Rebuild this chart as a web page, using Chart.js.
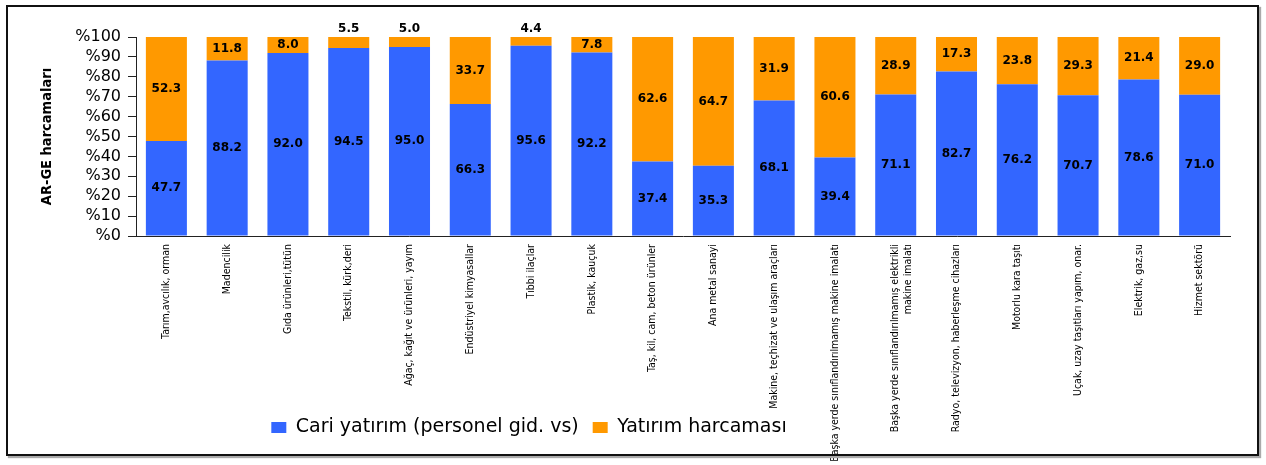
<!DOCTYPE html>
<html>
<head>
<meta charset="utf-8">
<script src="https://cdn.jsdelivr.net/npm/chart.js@4/dist/chart.umd.min.js"></script>
<style>
  body { margin: 0; background: #fff; }
  #kutu { position: relative; width: 1266px; height: 465px; }
  #grafik { position: absolute; left: 0; top: 0; }
  #cerceve {
    position: absolute; left: 6px; top: 5px; width: 1249px; height: 447px;
    border: 2px solid #111; box-shadow: 2px 2px 1px #aaa; pointer-events: none;
  }
</style>
</head>
<body>
<div id="kutu">
  <canvas id="grafik" width="1266" height="465"></canvas>
  <div id="cerceve"></div>
</div>
<script>
var sektorler = [
    "Tarım,avcılık, orman",
    "Madencilik",
    "Gıda ürünleri,tütün",
    "Tekstil, kürk,deri",
    "Ağaç, kağıt ve ürünleri, yayım",
    "Endüstriyel kimyasallar",
    "Tıbbi ilaçlar",
    "Plastik, kauçuk",
    "Taş, kil, cam, beton ürünler",
    "Ana metal sanayi",
    "Makine, teçhizat ve ulaşım araçları",
    "Başka yerde sınıflandırılmamış makine imalatı",
    ["Başka yerde sınıflandırılmamış elektrikli", "makine imalatı"],
    "Radyo, televizyon, haberleşme cihazları",
    "Motorlu kara taşıtı",
    "Uçak, uzay taşıtları yapım, onar.",
    "Elektrik, gaz,su",
    "Hizmet sektörü"
];

var cariYatirim = [47.7, 88.2, 92.0, 94.5, 95.0, 66.3, 95.6, 92.2, 37.4, 35.3, 68.1, 39.4, 71.1, 82.7, 76.2, 70.7, 78.6, 71.0];
var yatirimHarcamasi = [52.3, 11.8, 8.0, 5.5, 5.0, 33.7, 4.4, 7.8, 62.6, 64.7, 31.9, 60.6, 28.9, 17.3, 23.8, 29.3, 21.4, 29.0];

var yTikler = [0, 10, 20, 30, 40, 50, 60, 70, 80, 90, 100];

var darFont = "'Liberation Sans Narrow', 'Arial Narrow', 'DejaVu Sans Condensed', sans-serif";
var genisFont = "'DejaVu Sans', Verdana, sans-serif";

// bar ustune degerleri yaz
var degerYazilari = {
    id: 'degerYazilari',
    afterDatasetsDraw: function(chart) {
        var ctx = chart.ctx;
        ctx.save();
        ctx.font = "bold 12px " + genisFont;
        ctx.fillStyle = '#000';
        ctx.textAlign = 'center';
        ctx.textBaseline = 'middle';
        chart.data.datasets.forEach(function(ds, i) {
            var meta = chart.getDatasetMeta(i);
            meta.data.forEach(function(bar, j) {
                var p = bar.getProps(['x', 'y', 'base'], true);
                var deger = ds.data[j];
                var y = (p.y + p.base) / 2;
                if (i === 1 && deger < 6) {
                    y = p.y - 8;
                }
                ctx.fillText(deger.toFixed(1), p.x, y);
            });
        });
        ctx.restore();
    }
};

// lejanti sola kaydir, x etiketlerinin kesilmesini engelle
var yerlesim = {
    id: 'yerlesim',
    afterLayout: function(chart) {
        if (chart.legend) {
            chart.legend.left -= 86;
            chart.legend.right -= 86;
        }
        chart.scales.x.bottom = chart.height;
    }
};

var ctx = document.getElementById('grafik').getContext('2d');
var grafik = new Chart(ctx, {
    type: 'bar',
    data: {
        labels: sektorler,
        datasets: [{
            label: 'Cari yatırım (personel gid. vs)',
            data: cariYatirim,
            backgroundColor: '#3366FF',
            categoryPercentage: 1,
            barPercentage: 0.675
        }, {
            label: 'Yatırım harcaması',
            data: yatirimHarcamasi,
            backgroundColor: '#FF9900',
            categoryPercentage: 1,
            barPercentage: 0.675
        }]
    },
    options: {
        responsive: false,
        animation: false,
        devicePixelRatio: 1,
        layout: {
            padding: { left: 0, right: 36, top: 37, bottom: 18 }
        },
        plugins: {
            legend: {
                position: 'bottom',
                labels: {
                    color: '#000',
                    font: { family: genisFont, size: 19 },
                    boxWidth: 15,
                    boxHeight: 11,
                    padding: 14
                }
            },
            tooltip: { enabled: false }
        },
        scales: {
            x: {
                stacked: true,
                grid: { display: false, drawTicks: false },
                border: { display: true, color: '#222', width: 1 },
                ticks: {
                    autoSkip: false,
                    maxRotation: 90,
                    minRotation: 90,
                    padding: 8,
                    color: '#000',
                    font: { family: darFont, size: 10.5 }
                },
                afterFit: function(scale) { scale.height = 168; }
            },
            y: {
                stacked: true,
                min: 0,
                max: 100,
                afterBuildTicks: function(scale) {
                    scale.ticks = yTikler.map(function(v) { return { value: v }; });
                },
                grid: {
                    display: true,
                    drawOnChartArea: false,
                    drawTicks: true,
                    tickLength: 8,
                    color: '#222'
                },
                border: { display: true, color: '#222', width: 1 },
                ticks: {
                    autoSkip: false,
                    padding: 7,
                    color: '#000',
                    font: { family: genisFont, size: 16 },
                    callback: function(v) { return '%' + v; }
                },
                title: {
                    display: true,
                    text: 'AR-GE harcamaları',
                    color: '#000',
                    font: { family: darFont, size: 14.5, weight: 'bold' },
                    padding: { top: 39, bottom: 0 }
                },
                afterFit: function(scale) { scale.width = 136; }
            }
        }
    },
    plugins: [degerYazilari, yerlesim]
});
</script>
</body>
</html>
